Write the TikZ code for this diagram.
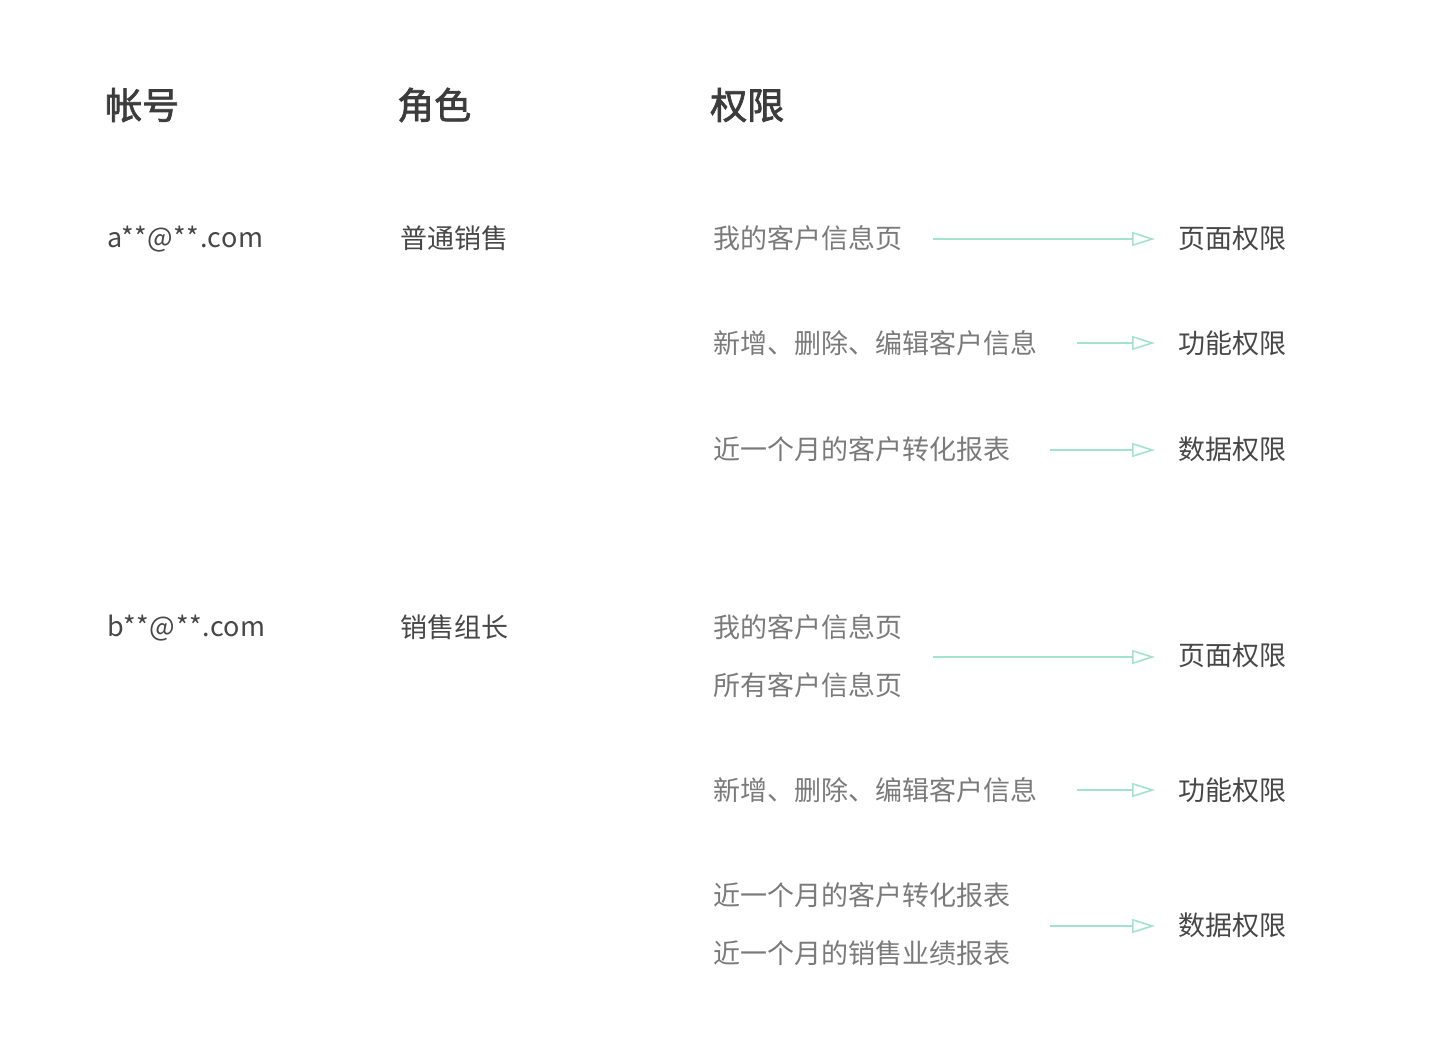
\documentclass[tikz,border=0pt]{standalone}
\usepackage{fontspec}
\setmainfont{Noto Sans CJK SC}
\newfontfamily\hdrfont[FakeBold=2]{Noto Sans CJK SC}
\newfontfamily\latfont[LetterSpace=2]{Noto Sans CJK SC}
\usetikzlibrary{arrows.meta}
\definecolor{hdr}{HTML}{3C3C3C}
\definecolor{dark}{HTML}{474747}
\definecolor{soft}{HTML}{7A7A7A}
\definecolor{mint}{HTML}{A3E3CB}
\tikzset{
  hdrtext/.style={anchor=west,inner sep=0pt,text=hdr,font=\hdrfont\fontsize{37}{40}\selectfont},
  acct/.style={anchor=west,inner sep=0pt,text=dark,font=\fontsize{27}{30}\selectfont},
  mail/.style={anchor=west,inner sep=0pt,text=dark,font=\latfont\fontsize{27}{30}\selectfont},
  perm/.style={anchor=west,inner sep=0pt,text=soft,font=\fontsize{27}{30}\selectfont},
  kind/.style={anchor=west,inner sep=0pt,text=dark,font=\fontsize{27}{30}\selectfont},
  link/.style={draw=mint,line width=1.6pt,-{Triangle[open,length=23pt,width=14pt,line width=1.6pt]},shorten >=23pt}
}
\begin{document}
\begin{tikzpicture}[x=1pt,y=-1pt]
\useasboundingbox (0,0) rectangle (1440,1051);
% headers
\node[hdrtext] (h1) at (105,105) {帐号};
\node[hdrtext] (h2) at (397,105) {角色};
\node[hdrtext] (h3) at (710,105) {权限};
% account a
\node[mail] (a1) at (107,239) {a**@**.com};
\node[acct] (r1) at (400,238) {普通销售};
\node[perm] (p1) at (713,238) {我的客户信息页};
\node[perm] (p2) at (713,343) {新增、删除、编辑客户信息};
\node[perm] (p3) at (713,449) {近一个月的客户转化报表};
\node[kind] (k1) at (1178,238) {页面权限};
\node[kind] (k2) at (1178,343) {功能权限};
\node[kind] (k3) at (1178,449) {数据权限};
\coordinate (s1) at (933,239);
\coordinate (s2) at (1077,343);
\coordinate (s3) at (1050,450);
\draw[link] (s1) -- (k1.west |- s1);
\draw[link] (s2) -- (k2.west |- s2);
\draw[link] (s3) -- (k3.west |- s3);
% account b
\node[mail] (a2) at (107,628) {b**@**.com};
\node[acct] (r2) at (400,627) {销售组长};
\node[perm] (q1) at (713,627) {我的客户信息页};
\node[perm] (q2) at (713,685) {所有客户信息页};
\node[perm] (q3) at (713,790) {新增、删除、编辑客户信息};
\node[perm] (q4) at (713,895) {近一个月的客户转化报表};
\node[perm] (q5) at (713,953) {近一个月的销售业绩报表};
\node[kind] (m1) at (1178,655) {页面权限};
\node[kind] (m2) at (1178,790) {功能权限};
\node[kind] (m3) at (1178,925) {数据权限};
\coordinate (t1) at (933,657);
\coordinate (t2) at (1077,790);
\coordinate (t3) at (1050,926);
\draw[link] (t1) -- (m1.west |- t1);
\draw[link] (t2) -- (m2.west |- t2);
\draw[link] (t3) -- (m3.west |- t3);
\end{tikzpicture}
\end{document}
